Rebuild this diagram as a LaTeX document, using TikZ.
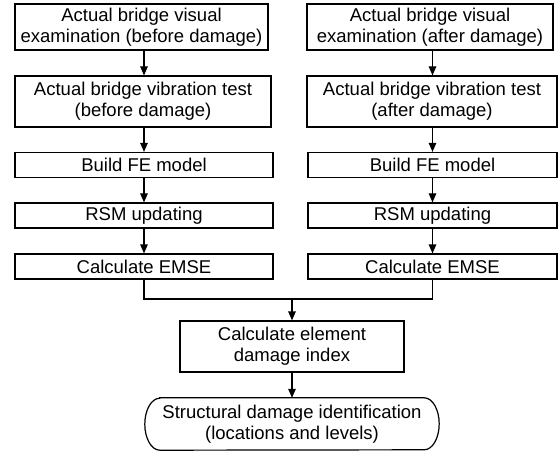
\documentclass[tikz,border=0pt]{standalone}
\usepackage{fontspec}
\setmainfont{Liberation Sans}
\usetikzlibrary{arrows.meta}
\begin{document}
\begin{tikzpicture}[x=1pt,y=-1pt,
  every node/.style={font=\fontsize{18.5}{21}\selectfont},
  stepbox/.style={draw,line width=1.2pt,inner sep=0pt,align=center,
    minimum height=#1},
  stepbox/.default=25pt,
  endbox/.style={inner sep=0pt,align=center,
    minimum height=52pt,minimum width=294pt},
  flow/.style={line width=1.2pt,-{Triangle[length=9pt,width=7.5pt]}},
  link/.style={line width=1.2pt}]
\useasboundingbox (0,0) rectangle (558,452);

% left column: before damage
\node[stepbox=46pt,minimum width=253pt] (L1) at (141.5,27)
  {Actual bridge visual\\examination (before damage)};
\node[stepbox=51pt,minimum width=256pt] (L2) at (143,101.5)
  {Actual bridge vibration test\\(before damage)};
\node[stepbox,minimum width=258pt] (L3) at (144,165) {Build FE model};
\node[stepbox,minimum width=258pt] (L4) at (144,215.5) {RSM updating};
\node[stepbox,minimum width=258pt] (L5) at (144,266.5) {Calculate EMSE};

% right column: after damage
\node[stepbox=46pt,minimum width=246pt] (R1) at (430,27)
  {Actual bridge visual\\examination (after damage)};
\node[stepbox=51pt,minimum width=250pt] (R2) at (432,101.5)
  {Actual bridge vibration test\\(after damage)};
\node[stepbox,minimum width=249pt] (R3) at (432.5,165) {Build FE model};
\node[stepbox,minimum width=249pt] (R4) at (432.5,215.5) {RSM updating};
\node[stepbox,minimum width=249pt] (R5) at (432.5,266.5) {Calculate EMSE};

% merged steps
\node[stepbox=51pt,minimum width=224pt] (M) at (292,346.5)
  {Calculate element\\damage index};
\node[endbox] (T) at (292,424)
  {Structural damage identification\\(locations and levels)};
% terminal outline with elliptical ends
\draw[link] ([xshift=15pt]T.north west) -- ([xshift=-15pt]T.north east)
  arc[start angle=90, end angle=-90, x radius=15pt, y radius=26pt]
  -- ([xshift=15pt]T.south west)
  arc[start angle=270, end angle=90, x radius=15pt, y radius=26pt]
  -- cycle;

% arrows within the columns
\draw[flow] (L1.south -| L3.south) -- (L2.north -| L3.south);
\draw[flow] (L2.south -| L3.south) -- (L3.north);
\draw[flow] (L3) -- (L4);
\draw[flow] (L4) -- (L5);
\draw[flow] (R1.south -| R3.south) -- (R2.north -| R3.south);
\draw[flow] (R2.south -| R3.south) -- (R3.north);
\draw[flow] (R3) -- (R4);
\draw[flow] (R4) -- (R5);

% joining the two columns
\coordinate (J) at (292,299);
\draw[link] (L5.south) |- (J);
\draw[link] (R5.south) |- (J);
\draw[flow] (J) -- (M.north);
\draw[flow] (M) -- (T.north);
\end{tikzpicture}
\end{document}
